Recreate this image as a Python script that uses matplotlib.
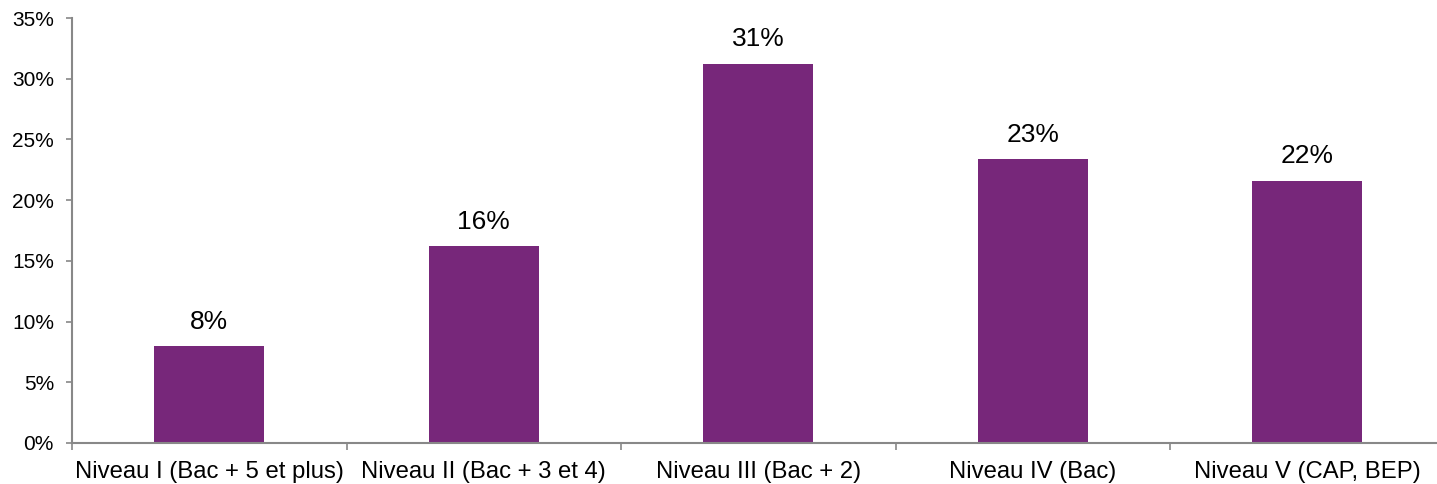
import matplotlib.pyplot as plt
from matplotlib.ticker import FuncFormatter

plt.rcParams['font.family'] = ['Liberation Sans', 'DejaVu Sans']

categories = ["Niveau I (Bac + 5 et plus)", "Niveau II (Bac + 3 et 4)",
              "Niveau III (Bac + 2)", "Niveau IV (Bac)", "Niveau V (CAP, BEP)"]
values = [7.95, 16.2, 31.2, 23.35, 21.6]
labels = ["8%", "16%", "31%", "23%", "22%"]

W, H = 1437, 484
fig = plt.figure(figsize=(W / 100, H / 100), dpi=100)
# plot area runs a little past the right edge of the picture, as in the original
ax = fig.add_axes([72 / W, 1 - 443 / H, 1372.5 / W, (443 - 18) / H])

x = range(len(categories))
ax.bar(x, values, width=0.4, color="#77277A", zorder=2)
for i, (v, lab) in enumerate(zip(values, labels)):
    ax.text(i, v + 1.05, lab, ha="center", va="bottom", fontsize=19)

ax.set_xlim(-0.5, len(categories) - 0.5)
ax.set_ylim(0, 35)
ax.set_yticks(range(0, 36, 5))
ax.yaxis.set_major_formatter(FuncFormatter(lambda v, p: f"{int(v)}%"))
ax.set_xticks([i + 0.5 for i in range(-1, len(categories))])
ax.set_xticklabels([])
ax.set_xticks(list(x), minor=True)
ax.set_xticklabels(categories, minor=True)
ax.tick_params(axis="x", which="minor", length=0, labelsize=17.2, pad=13)
ax.tick_params(axis="x", which="major", length=5, width=1.2, color="#888888", direction="out")
ax.tick_params(axis="y", length=4, width=1.2, color="#888888", labelsize=15, pad=9)

for s in ["top", "right"]:
    ax.spines[s].set_visible(False)
for s in ["left", "bottom"]:
    ax.spines[s].set_color("#888888")
    ax.spines[s].set_linewidth(1.5)

fig.savefig("out.png", dpi=100)
